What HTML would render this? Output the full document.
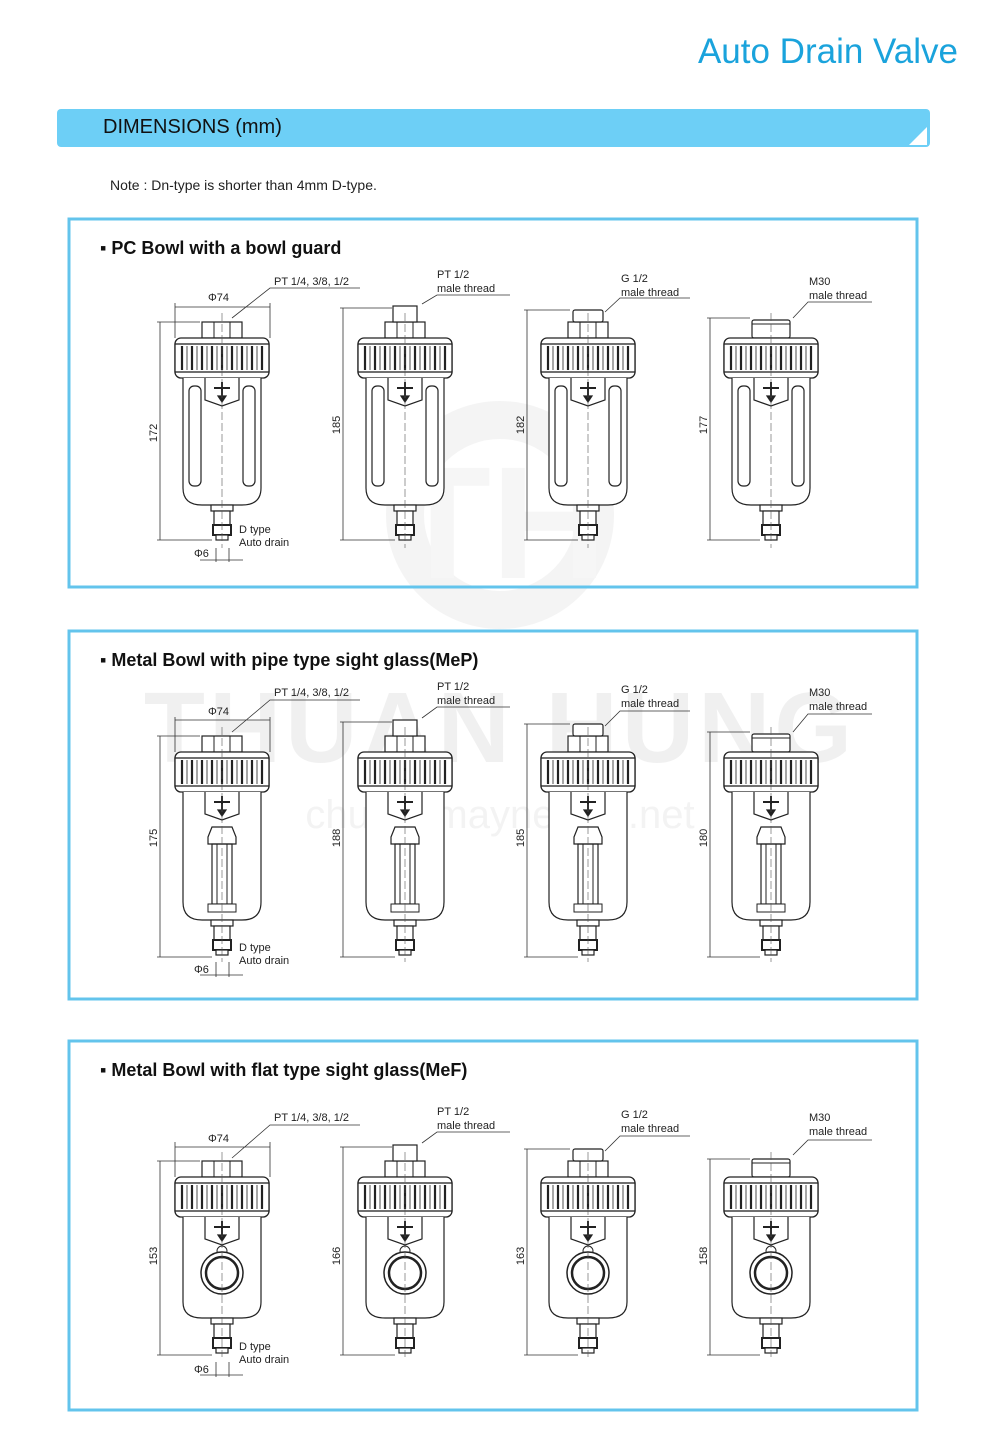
<!DOCTYPE html>
<html><head><meta charset="utf-8"><style>
body{margin:0;width:1000px;height:1454px;background:#fff;position:relative;overflow:hidden;font-family:"Liberation Sans",sans-serif}
.t{position:absolute;white-space:nowrap}
</style></head><body>
<div class="t" style="right:42px;top:32px;font-size:35px;color:#1aa3dc">Auto Drain Valve</div>
<div style="position:absolute;left:57px;top:109px;width:873px;height:38px;background:#6dcff6;border-radius:4px"></div>
<div style="position:absolute;left:909px;top:127px;width:0;height:0;border-left:18px solid transparent;border-bottom:18px solid #fff"></div>
<div class="t" style="left:103px;top:116px;font-size:20px;color:#111">DIMENSIONS (mm)</div>
<div class="t" style="left:110px;top:177px;font-size:14px;color:#222">Note : Dn-type is shorter than 4mm D-type.</div>
<svg width="1000" height="1454" style="position:absolute;left:0;top:0" font-family="Liberation Sans, sans-serif">
<defs>
<g id="cap" fill="#fff" stroke="#222" stroke-width="1.3">
<rect x="-47" y="0" width="94" height="40" rx="6"/>
<rect x="-47" y="6" width="94" height="28" fill="#fff"/>
<g stroke-width="2.2"><line x1="-40" y1="8" x2="-40" y2="32"/><line x1="-30" y1="8" x2="-30" y2="32"/><line x1="-20" y1="8" x2="-20" y2="32"/><line x1="-10" y1="8" x2="-10" y2="32"/><line x1="0" y1="8" x2="0" y2="32"/><line x1="10" y1="8" x2="10" y2="32"/><line x1="20" y1="8" x2="20" y2="32"/><line x1="30" y1="8" x2="30" y2="32"/><line x1="40" y1="8" x2="40" y2="32"/></g>
<g stroke-width="0.8"><line x1="-35" y1="8" x2="-35" y2="32"/><line x1="-25" y1="8" x2="-25" y2="32"/><line x1="-15" y1="8" x2="-15" y2="32"/><line x1="-5" y1="8" x2="-5" y2="32"/><line x1="5" y1="8" x2="5" y2="32"/><line x1="15" y1="8" x2="15" y2="32"/><line x1="25" y1="8" x2="25" y2="32"/><line x1="35" y1="8" x2="35" y2="32"/></g>
</g>
<g id="drain" fill="#fff" stroke="#222" stroke-width="1.2">
<rect x="-11" y="0" width="22" height="6"/>
<rect x="-8" y="6" width="16" height="14"/>
<rect x="-9" y="20" width="18" height="10" stroke-width="2"/>
<rect x="-6" y="30" width="12" height="5"/>
</g>
<g id="valve" fill="none" stroke="#222" stroke-width="1.2">
<path d="M-17 0 V22 L0 28 L17 22 V0"/>
<path d="M-8 10 H8 M0 4 V22" stroke-width="2"/>
<path d="M-4 18 L0 24 L4 18Z" fill="#222"/>
</g>
<g id="n1"><rect x="-20" y="-16" width="40" height="16" fill="#fff" stroke="#222" stroke-width="1.2"/><line x1="-8" y1="-16" x2="-8" y2="0" stroke="#222"/><line x1="8" y1="-16" x2="8" y2="0" stroke="#222"/></g>
<g id="n2"><use href="#n1"/><rect x="-12" y="-32" width="24" height="16" fill="#fff" stroke="#222" stroke-width="1.2"/></g>
<g id="n3"><use href="#n1"/><rect x="-15" y="-28" width="30" height="12" rx="2" fill="#fff" stroke="#222" stroke-width="1.2"/></g>
<g id="n4"><rect x="-19" y="-18" width="38" height="18" rx="2" fill="#fff" stroke="#222" stroke-width="1.2"/><line x1="-19" y1="-14" x2="19" y2="-14" stroke="#222"/></g>
<g id="b1"><path d="M-39 40 V150 Q-39 167 -20 167 H20 Q39 167 39 150 V40" fill="#fff" stroke="#222" stroke-width="1.2"/>
<rect x="-33" y="48" width="12" height="100" rx="5" fill="none" stroke="#222" stroke-width="1.2"/><rect x="21" y="48" width="12" height="100" rx="5" fill="none" stroke="#222" stroke-width="1.2"/>
<use href="#valve" y="40"/><use href="#drain" y="167"/><line x1="0" y1="-25" x2="0" y2="210" stroke="#555" stroke-width=".6" stroke-dasharray="8 3"/></g>
<g id="b2"><path d="M-39 40 V150 Q-39 168 -20 168 H20 Q39 168 39 150 V40" fill="#fff" stroke="#222" stroke-width="1.2"/>
<use href="#valve" y="40"/><path d="M-10 75 L-14 85 V92 H14 V85 L10 75Z" fill="#fff" stroke="#222" stroke-width="1.2"/>
<rect x="-10" y="92" width="20" height="60" fill="none" stroke="#222" stroke-width="1.2"/><rect x="-5" y="92" width="10" height="60" fill="none" stroke="#222"/>
<path d="M-14 152 H14 V160 H-14Z" fill="#fff" stroke="#222"/>
<use href="#drain" y="168"/><line x1="0" y1="-25" x2="0" y2="210" stroke="#555" stroke-width=".6" stroke-dasharray="8 3"/></g>
<g id="b3"><path d="M-39 40 V125 Q-39 141 -20 141 H20 Q39 141 39 125 V40" fill="#fff" stroke="#222" stroke-width="1.2"/>
<use href="#valve" y="40"/><circle cx="0" cy="74" r="5" fill="none" stroke="#222"/>
<circle cx="0" cy="96" r="21" fill="#fff" stroke="#222" stroke-width="1.5"/><circle cx="0" cy="96" r="16" fill="none" stroke="#222" stroke-width="2.5"/>
<use href="#drain" y="141"/><line x1="0" y1="-25" x2="0" y2="180" stroke="#555" stroke-width=".6" stroke-dasharray="8 3"/></g>
</defs>
<g opacity="0.3">
<circle cx="500" cy="515" r="95" fill="none" stroke="#ddd" stroke-width="38"/>
<text x="500" y="578" font-size="160" font-weight="bold" fill="#e2e2e2" text-anchor="middle">TH</text>
<text x="500" y="762" font-size="100" font-weight="bold" fill="#d0d0d0" text-anchor="middle" letter-spacing="4">THUAN HUNG</text>
<text x="500" y="828" font-size="40" fill="#d8d8d8" text-anchor="middle">chuyenmaynenkhi.net</text>
</g>
<g fill="none" stroke="#63c4ec" stroke-width="3">
<rect x="69" y="219" width="848" height="368"/>
<rect x="69" y="631" width="848" height="368"/>
<rect x="69" y="1041" width="848" height="369"/>
</g>
<g font-size="18" font-weight="bold" fill="#111">
<text x="100" y="254">▪ PC Bowl with a bowl guard</text>
<text x="100" y="666">▪ Metal Bowl with pipe type sight glass(MeP)</text>
<text x="100" y="1076">▪ Metal Bowl with flat type sight glass(MeF)</text>
</g>
<g transform="translate(222,338)"><use href="#n1"/><use href="#cap"/><use href="#b1"/></g>
<g transform="translate(405,338)"><use href="#n2"/><use href="#cap"/><use href="#b1"/></g>
<g transform="translate(588,338)"><use href="#n3"/><use href="#cap"/><use href="#b1"/></g>
<g transform="translate(771,338)"><use href="#n4"/><use href="#cap"/><use href="#b1"/></g>
<g transform="translate(222,752)"><use href="#n1"/><use href="#cap"/><use href="#b2"/></g>
<g transform="translate(405,752)"><use href="#n2"/><use href="#cap"/><use href="#b2"/></g>
<g transform="translate(588,752)"><use href="#n3"/><use href="#cap"/><use href="#b2"/></g>
<g transform="translate(771,752)"><use href="#n4"/><use href="#cap"/><use href="#b2"/></g>
<g transform="translate(222,1177)"><use href="#n1"/><use href="#cap"/><use href="#b3"/></g>
<g transform="translate(405,1177)"><use href="#n2"/><use href="#cap"/><use href="#b3"/></g>
<g transform="translate(588,1177)"><use href="#n3"/><use href="#cap"/><use href="#b3"/></g>
<g transform="translate(771,1177)"><use href="#n4"/><use href="#cap"/><use href="#b3"/></g>
<g stroke="#333" stroke-width=".8" fill="none">
<path d="M160 322V540 M157 322H200 M157 540H212 M175 303V338 M270 303V338 M175 307H270 M200 560H243 M216 548V562 M229 548V562 M232 318L270 288H360"/>
<path d="M343 308V540 M340 308H392 M340 540H395 M422 304L437 295H510"/>
<path d="M527 310V540 M524 310H570 M524 540H578 M605 312L620 298H690"/>
<path d="M710 318V540 M707 318H750 M707 540H760 M793 318L808 302H872"/>
<path d="M160 736V957 M157 736H200 M157 957H212 M175 717V752 M270 717V752 M175 720H270 M200 975H243 M216 962V977 M229 962V977 M232 732L270 700H360"/>
<path d="M343 722V957 M340 722H392 M340 957H395 M422 718L437 707H510"/>
<path d="M527 724V957 M524 724H570 M524 957H578 M605 726L620 711H690"/>
<path d="M710 732V957 M707 732H750 M707 957H760 M793 732L808 714H872"/>
<path d="M160 1161V1355 M157 1161H200 M157 1355H212 M175 1142V1177 M270 1142V1177 M175 1147H270 M200 1375H243 M216 1362V1377 M229 1362V1377 M232 1158L270 1125H360"/>
<path d="M343 1147V1355 M340 1147H392 M340 1355H395 M422 1143L437 1132H510"/>
<path d="M527 1149V1355 M524 1149H570 M524 1355H578 M605 1151L620 1136H690"/>
<path d="M710 1159V1355 M707 1159H750 M707 1355H760 M793 1155L808 1140H872"/>
</g>
<g font-size="11" fill="#222">
<text x="274" y="285">PT 1/4, 3/8, 1/2</text><text x="208" y="301">Φ74</text><text x="194" y="557">Φ6</text>
<text x="239" y="533">D type</text><text x="239" y="546">Auto drain</text>
<text x="437" y="278">PT 1/2</text><text x="437" y="292">male thread</text>
<text x="621" y="282">G 1/2</text><text x="621" y="296">male thread</text>
<text x="809" y="285">M30</text><text x="809" y="299">male thread</text>
<text transform="translate(157,433) rotate(-90)" text-anchor="middle">172</text>
<text transform="translate(340,425) rotate(-90)" text-anchor="middle">185</text>
<text transform="translate(524,425) rotate(-90)" text-anchor="middle">182</text>
<text transform="translate(707,425) rotate(-90)" text-anchor="middle">177</text>
<text x="274" y="696">PT 1/4, 3/8, 1/2</text><text x="208" y="715">Φ74</text><text x="194" y="973">Φ6</text>
<text x="239" y="951">D type</text><text x="239" y="964">Auto drain</text>
<text x="437" y="690">PT 1/2</text><text x="437" y="704">male thread</text>
<text x="621" y="693">G 1/2</text><text x="621" y="707">male thread</text>
<text x="809" y="696">M30</text><text x="809" y="710">male thread</text>
<text transform="translate(157,838) rotate(-90)" text-anchor="middle">175</text>
<text transform="translate(340,838) rotate(-90)" text-anchor="middle">188</text>
<text transform="translate(524,838) rotate(-90)" text-anchor="middle">185</text>
<text transform="translate(707,838) rotate(-90)" text-anchor="middle">180</text>
<text x="274" y="1121">PT 1/4, 3/8, 1/2</text><text x="208" y="1142">Φ74</text><text x="194" y="1373">Φ6</text>
<text x="239" y="1350">D type</text><text x="239" y="1363">Auto drain</text>
<text x="437" y="1115">PT 1/2</text><text x="437" y="1129">male thread</text>
<text x="621" y="1118">G 1/2</text><text x="621" y="1132">male thread</text>
<text x="809" y="1121">M30</text><text x="809" y="1135">male thread</text>
<text transform="translate(157,1256) rotate(-90)" text-anchor="middle">153</text>
<text transform="translate(340,1256) rotate(-90)" text-anchor="middle">166</text>
<text transform="translate(524,1256) rotate(-90)" text-anchor="middle">163</text>
<text transform="translate(707,1256) rotate(-90)" text-anchor="middle">158</text>
</g>
</svg>
</body></html>
